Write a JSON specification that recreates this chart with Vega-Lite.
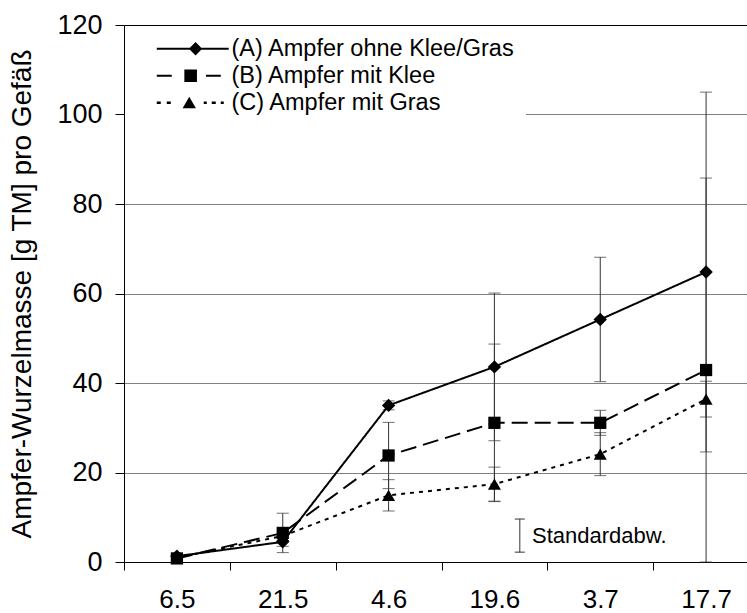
{
  "$schema": "https://vega.github.io/schema/vega-lite/v6.json",
  "width": 635,
  "height": 537,
  "autosize": {"type": "none"},
  "padding": {"left": 124, "top": 25, "right": -12, "bottom": 51},
  "config": {
    "font": "Liberation Sans",
    "view": {"stroke": null},
    "axis": {"labelFont": "Liberation Sans", "titleFont": "Liberation Sans", "labelColor": "black", "titleColor": "black", "domainColor": "black", "tickColor": "black"}
  },
  "datasets": {
    "main": [
      {"Ort": "6.5", "Variante": "(A) Ampfer ohne Klee/Gras", "Wert": 1.3, "SD": 0.5},
      {"Ort": "21.5", "Variante": "(A) Ampfer ohne Klee/Gras", "Wert": 4.5, "SD": 1.0},
      {"Ort": "4.6", "Variante": "(A) Ampfer ohne Klee/Gras", "Wert": 35.0, "SD": 1.0},
      {"Ort": "19.6", "Variante": "(A) Ampfer ohne Klee/Gras", "Wert": 43.6, "SD": 16.5},
      {"Ort": "3.7", "Variante": "(A) Ampfer ohne Klee/Gras", "Wert": 54.2, "SD": 13.9},
      {"Ort": "17.7", "Variante": "(A) Ampfer ohne Klee/Gras", "Wert": 64.8, "SD": 40.2},
      {"Ort": "6.5", "Variante": "(B) Ampfer mit Klee", "Wert": 0.8, "SD": 0.5},
      {"Ort": "21.5", "Variante": "(B) Ampfer mit Klee", "Wert": 6.5, "SD": 4.4},
      {"Ort": "4.6", "Variante": "(B) Ampfer mit Klee", "Wert": 23.8, "SD": 7.4},
      {"Ort": "19.6", "Variante": "(B) Ampfer mit Klee", "Wert": 31.1, "SD": 17.6},
      {"Ort": "3.7", "Variante": "(B) Ampfer mit Klee", "Wert": 31.1, "SD": 2.8},
      {"Ort": "17.7", "Variante": "(B) Ampfer mit Klee", "Wert": 42.9, "SD": 42.9},
      {"Ort": "6.5", "Variante": "(C) Ampfer mit Gras", "Wert": 1.0, "SD": 0.5},
      {"Ort": "21.5", "Variante": "(C) Ampfer mit Gras", "Wert": 5.8, "SD": 1.0},
      {"Ort": "4.6", "Variante": "(C) Ampfer mit Gras", "Wert": 14.9, "SD": 3.5},
      {"Ort": "19.6", "Variante": "(C) Ampfer mit Gras", "Wert": 17.4, "SD": 3.8},
      {"Ort": "3.7", "Variante": "(C) Ampfer mit Gras", "Wert": 24.1, "SD": 4.8},
      {"Ort": "17.7", "Variante": "(C) Ampfer mit Gras", "Wert": 36.4, "SD": 4.0}
    ],
    "note": [
      {"Ort": "19.6", "lo": 2.2, "hi": 9.6, "mid": 5.7, "label": "Standardabw."}
    ]
  },
  "layer": [
    {
      "data": {"name": "main"},
      "mark": {"type": "errorbar", "ticks": {"size": 12, "color": "#333333"}, "rule": {"color": "#333333", "strokeWidth": 1}},
      "encoding": {
        "x": {"field": "Ort", "type": "nominal", "sort": ["6.5", "21.5", "4.6", "19.6", "3.7", "17.7"],
              "scale": {"domain": ["6.5", "21.5", "4.6", "19.6", "3.7", "17.7"], "paddingInner": 0, "paddingOuter": 0},
              "axis": {"title": null, "labelAngle": 0, "labelFontSize": 26, "labelPadding": 16, "tickSize": 8, "tickBand": "extent", "grid": false}},
        "y": {"field": "Wert", "type": "quantitative",
              "scale": {"domain": [0, 120], "nice": false},
              "axis": {"title": "Ampfer-Wurzelmasse [g TM] pro Gefäß", "values": [0, 20, 40, 60, 80, 100, 120],
                       "labelFontSize": 27, "titleFontSize": 28, "titleFontWeight": "normal", "titlePadding": 20,
                       "tickSize": 9, "labelPadding": 13, "grid": true,
                       "gridColor": {"condition": {"test": "datum.value === 120", "value": "black"}, "value": "#808080"},
                       "gridWidth": 1}},
        "yError": {"field": "SD"},
        "detail": {"field": "Variante", "type": "nominal"}
      }
    },
    {
      "data": {"name": "main"},
      "mark": {"type": "line", "color": "black", "strokeWidth": 2},
      "encoding": {
        "x": {"field": "Ort", "type": "nominal", "sort": ["6.5", "21.5", "4.6", "19.6", "3.7", "17.7"]},
        "y": {"field": "Wert", "type": "quantitative"},
        "strokeDash": {"field": "Variante", "type": "nominal",
          "scale": {"domain": ["(A) Ampfer ohne Klee/Gras", "(B) Ampfer mit Klee", "(C) Ampfer mit Gras"], "range": [[1, 0], [16, 7], [4, 5]]},
          "legend": {"title": null, "orient": "top-left", "offset": 1, "padding": 11, "fillColor": "white", "strokeColor": null,
                     "labelFontSize": 23.5, "labelFont": "Liberation Sans", "labelColor": "black", "labelOffset": 27, "labelLimit": 500,
                     "symbolSize": 196, "symbolStrokeWidth": 0, "symbolOffset": 45, "rowPadding": 2,
                     "symbolFillColor": "black", "symbolStrokeColor": "transparent",
                     "encode": {"symbols": {"update": {
                        "shape": {"signal": "['M-5.14,-0.14L5.14,-0.14L5.14,0.14L-5.14,0.14ZM0.4,-0.95L1.35,0L0.4,0.95L-0.55,0Z','M-5.14,-0.14L-3,-0.14L-3,0.14L-5.14,0.14ZM1.9,-0.14L4,-0.14L4,0.14L1.9,0.14ZM-1.2,-0.9L0.6,-0.9L0.6,0.9L-1.2,0.9Z','M-5.14,-0.17L-4.57,-0.17L-4.57,0.17L-5.14,0.17ZM-3.71,-0.17L-3.14,-0.17L-3.14,0.17L-3.71,0.17ZM1.57,-0.17L2,-0.17L2,0.17L1.57,0.17ZM2.71,-0.17L3.29,-0.17L3.29,0.17L2.71,0.17ZM4,-0.17L4.43,-0.17L4.43,0.17L4,0.17ZM-0.5,-0.85L0.45,0.8L-1.45,0.8Z'][datum.index]"},
                        "fill": {"value": "black"}, "fillOpacity": {"value": 1}, "stroke": {"value": "transparent"}, "strokeWidth": {"value": 0}, "opacity": {"value": 1}}}}}}
      }
    },
    {
      "data": {"name": "main"},
      "transform": [{"filter": {"field": "Variante", "equal": "(A) Ampfer ohne Klee/Gras"}}],
      "mark": {"type": "point", "filled": true, "opacity": 1, "color": "black", "shape": "diamond", "size": 180},
      "encoding": {
        "x": {"field": "Ort", "type": "nominal", "sort": ["6.5", "21.5", "4.6", "19.6", "3.7", "17.7"]},
        "y": {"field": "Wert", "type": "quantitative"}
      }
    },
    {
      "data": {"name": "main"},
      "transform": [{"filter": {"field": "Variante", "equal": "(B) Ampfer mit Klee"}}],
      "mark": {"type": "point", "filled": true, "opacity": 1, "color": "black", "shape": "square", "size": 150},
      "encoding": {
        "x": {"field": "Ort", "type": "nominal", "sort": ["6.5", "21.5", "4.6", "19.6", "3.7", "17.7"]},
        "y": {"field": "Wert", "type": "quantitative"}
      }
    },
    {
      "data": {"name": "main"},
      "transform": [{"filter": {"field": "Variante", "equal": "(C) Ampfer mit Gras"}}],
      "mark": {"type": "point", "filled": true, "opacity": 1, "color": "black", "shape": "triangle-up", "size": 170},
      "encoding": {
        "x": {"field": "Ort", "type": "nominal", "sort": ["6.5", "21.5", "4.6", "19.6", "3.7", "17.7"]},
        "y": {"field": "Wert", "type": "quantitative"}
      }
    },
    {
      "data": {"name": "note"},
      "mark": {"type": "rule", "color": "#333333", "strokeWidth": 1},
      "encoding": {
        "x": {"field": "Ort", "type": "nominal", "bandPosition": 0.74},
        "y": {"field": "lo", "type": "quantitative"},
        "y2": {"field": "hi"}
      }
    },
    {
      "data": {"name": "note"},
      "mark": {"type": "point", "shape": "M-1,0L1,0", "size": 100, "filled": false, "color": "#333333", "strokeWidth": 1, "opacity": 1},
      "encoding": {
        "x": {"field": "Ort", "type": "nominal", "bandPosition": 0.74},
        "y": {"field": "lo", "type": "quantitative"}
      }
    },
    {
      "data": {"name": "note"},
      "mark": {"type": "point", "shape": "M-1,0L1,0", "size": 100, "filled": false, "color": "#333333", "strokeWidth": 1, "opacity": 1},
      "encoding": {
        "x": {"field": "Ort", "type": "nominal", "bandPosition": 0.74},
        "y": {"field": "hi", "type": "quantitative"}
      }
    },
    {
      "data": {"name": "note"},
      "mark": {"type": "text", "align": "left", "baseline": "middle", "fontSize": 22, "color": "black", "font": "Liberation Sans"},
      "encoding": {
        "x": {"field": "Ort", "type": "nominal", "bandPosition": 0.855},
        "y": {"field": "mid", "type": "quantitative"},
        "text": {"field": "label"}
      }
    }
  ]
}
